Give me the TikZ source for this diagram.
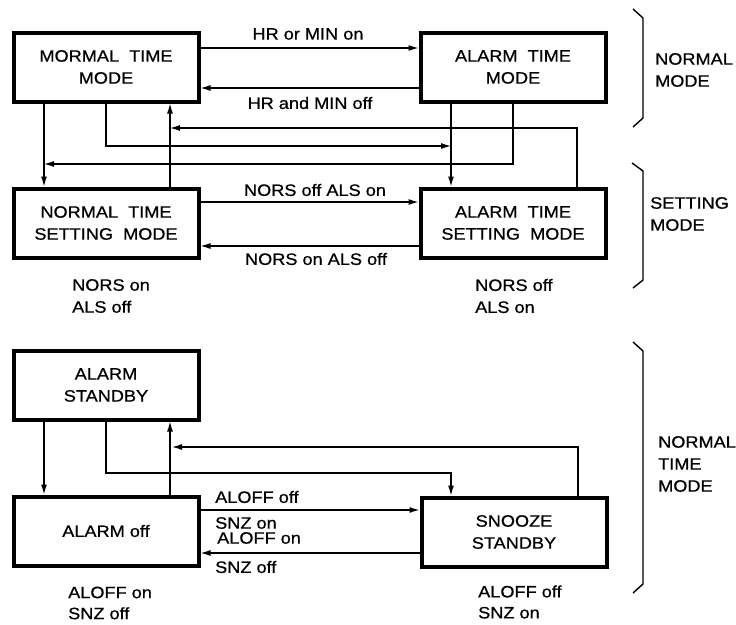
\documentclass[tikz,border=0pt]{standalone}
\usepackage{fontspec}
\setmainfont[FakeStretch=1.1,FakeBold=0.7]{Liberation Sans}
\usetikzlibrary{arrows.meta}

\begin{document}
\begin{tikzpicture}[x=1pt, y=-1pt,
  font=\fontsize{16.5}{22}\selectfont,
  modebox/.style={draw, line width=4pt, minimum width=185pt, minimum height=69pt,
    align=center, inner sep=0pt},
  link/.style={line width=1.2pt, -{Latex[length=10pt,width=6pt]}},
  txt/.style={anchor=west, inner sep=0pt, align=left},
  lbl/.style={inner sep=0pt},
  bracket/.style={line width=1.4pt}]
\useasboundingbox (0,0) rectangle (736,624);

%% ---- Normal / setting modes ----
\node[modebox] (ntm) at (106,67)  {MORMAL~~TIME\\MODE};
\node[modebox] (atm) at (513,67)  {ALARM~~TIME\\MODE};
\node[modebox] (nts) at (106,223) {NORMAL~~TIME\\SETTING~~MODE};
\node[modebox] (ats) at (513,223) {ALARM~~TIME\\SETTING~~MODE};

\draw[link] ([yshift=19pt]ntm.east) -- ([yshift=19pt]ntm.east -| atm.west);
\draw[link] ([yshift=-21pt]ntm.east -| atm.west) -- ([yshift=-21pt]ntm.east);
\node[lbl] (hron)  at (308,34)  {HR or MIN on};
\node[lbl] (hroff) at (310,103) {HR and MIN off};

\draw[link] ([yshift=21pt]nts.east) -- ([yshift=21pt]nts.east -| ats.west);
\draw[link] ([yshift=-23pt]nts.east -| ats.west) -- ([yshift=-23pt]nts.east);
\node[lbl] (nsoff) at (315,190) {NORS off ALS on};
\node[lbl] (nson)  at (316,259) {NORS on ALS off};

\coordinate (m1) at (451,146);
\coordinate (m2) at (44,164);
\coordinate (m3) at (170,128);
\draw[link] ([xshift=-62pt]ntm.south) -- ([xshift=-62pt]nts.north);
\draw[link] ([xshift=64pt]nts.north) -- ([xshift=64pt]ntm.south);
\draw[link] (ntm.south) |- (m1);
\draw[link] ([xshift=-62pt]atm.south) -- ([xshift=-62pt]ats.north);
\draw[link] (atm.south) |- (m2);
\draw[link] ([xshift=64pt]ats.north) |- (m3);

\node[txt] (ntsst) at (72,296)  {NORS on\\ALS off};
\node[txt] (atsst) at (475,296) {NORS off\\ALS on};

%% ---- Alarm states ----
\node[modebox] (asb)  at (106,385) {ALARM\\STANDBY};
\node[modebox] (aoff) at (106,531) {ALARM off};
\node[modebox] (snz)  at (514,532) {SNOOZE\\STANDBY};

\coordinate (m4) at (451,473);
\coordinate (m5) at (172,447);
\draw[link] ([xshift=-62pt]asb.south) -- ([xshift=-62pt]aoff.north);
\draw[link] ([xshift=64pt]aoff.north) -- ([xshift=64pt]asb.south);
\draw[link] (asb.south) |- (m4) -- (m4 |- snz.north);
\draw[link] ([xshift=64pt]snz.north) |- (m5);

\draw[link] ([yshift=21pt]aoff.east) -- ([yshift=21pt]aoff.east -| snz.west);
\draw[link] ([yshift=-22pt]aoff.east -| snz.west) -- ([yshift=-22pt]aoff.east);
\node[txt] (aloffoff) at (215,497) {ALOFF off};
\node[txt] (snzon)    at (215,523) {SNZ on};
\node[txt] (aloffon)  at (217,538) {ALOFF on};
\node[txt] (snzoff)   at (215,567) {SNZ off};

\node[txt, font=\fontsize{16.5}{21}\selectfont] (aoffst) at (68,603) {ALOFF on\\SNZ off};
\node[txt, font=\fontsize{16.5}{21}\selectfont] (snzst)  at (478,602) {ALOFF off\\SNZ on};

%% ---- Group brackets ----
\draw[bracket] (633,9)   -- (643,18)  -- (643,118) -- (633,127);
\draw[bracket] (632,163) -- (643,171) -- (643,280) -- (633,288);
\draw[bracket] (633,342) -- (643,351) -- (643,584) -- (633,593);
\node[txt] (grpnorm) at (655,70)  {NORMAL\\MODE};
\node[txt] (grpset)  at (650,214) {SETTING\\MODE};
\node[txt] (grptime) at (658,464) {NORMAL\\TIME\\MODE};
\end{tikzpicture}
\end{document}
